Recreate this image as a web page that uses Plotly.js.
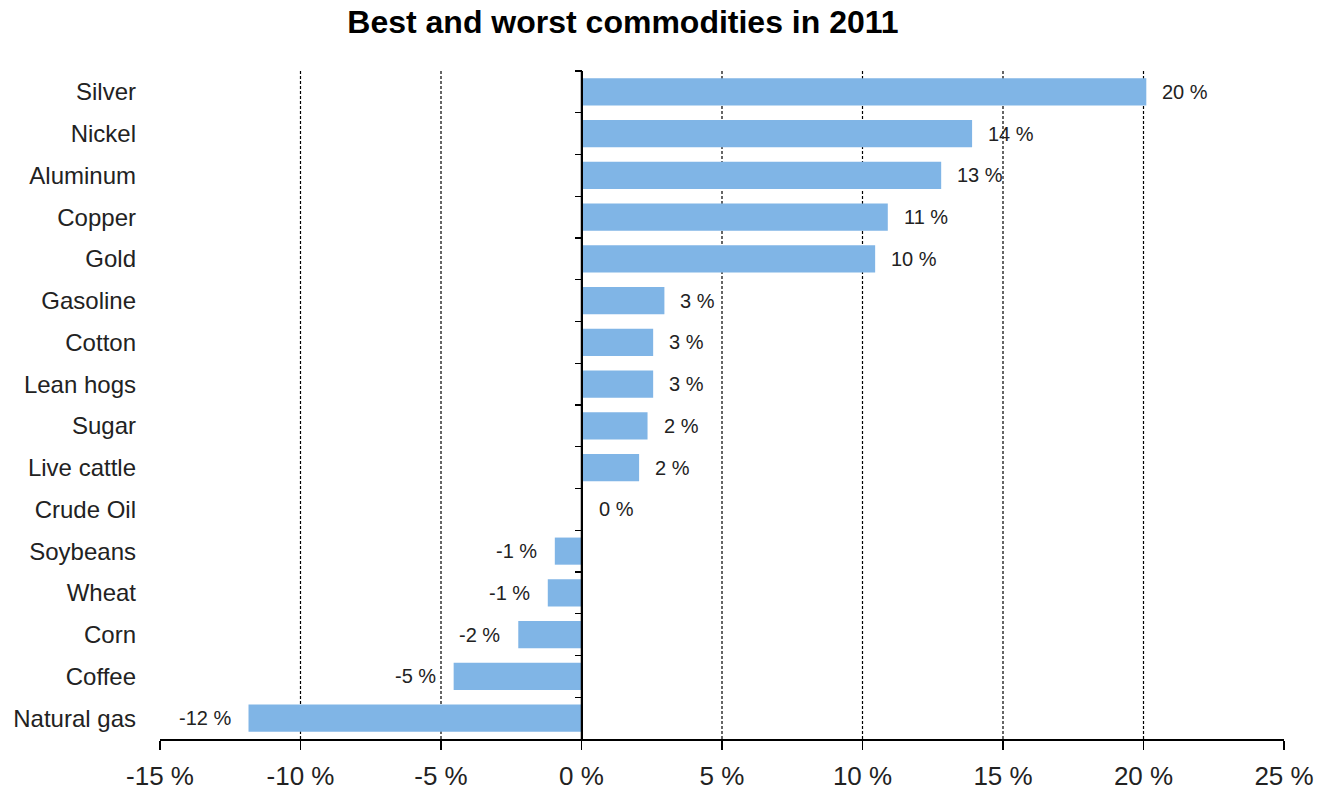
<!DOCTYPE html>
<html>
<head>
<meta charset="utf-8">
<script src="https://cdn.plot.ly/plotly-3.0.1.min.js"></script>
<style>html,body{margin:0;padding:0;background:#fff;}#chart{width:1319px;height:795px;}</style>
</head>
<body>
<div id="chart"></div>
<script>
const categories = ["Silver","Nickel","Aluminum","Copper","Gold","Gasoline","Cotton","Lean hogs","Sugar","Live cattle","Crude Oil","Soybeans","Wheat","Corn","Coffee","Natural gas"];
const values = [20.1, 13.9, 12.8, 10.9, 10.45, 2.95, 2.55, 2.55, 2.35, 2.05, 0.05, -0.95, -1.2, -2.25, -4.55, -11.85];
const labels = ["20 %","14 %","13 %","11 %","10 %","3 %","3 %","3 %","2 %","2 %","0 %","-1 %","-1 %","-2 %","-5 %","-12 %"];
const tickValues = [-15,-10,-5,0,5,10,15,20,25];
const tickLabels = ["-15 %","-10 %","-5 %","0 %","5 %","10 %","15 %","20 %","25 %"];
const gridValues = [-10,-5,5,10,15,20];

const font = "Liberation Sans, Arial, sans-serif";
const barColor = "#80B5E6";

const traces = [
  {type:"bar", orientation:"h", x:values, y:categories, marker:{color:barColor}, width:0.65, hoverinfo:"x+y", xaxis:"x", yaxis:"y"},
  {type:"bar", orientation:"h", x:values, y:categories, marker:{color:"rgba(0,0,0,0)"}, width:0.65, hoverinfo:"skip", xaxis:"x", yaxis:"y2", showlegend:false}
];

const shapes = gridValues.map(v => ({type:"line", xref:"x", yref:"paper", x0:v, x1:v, y0:0, y1:1, layer:"below", line:{color:"#000", width:1.2, dash:"3px,2px"}}));
shapes.push({type:"line", xref:"x", yref:"paper", x0:0, x1:0, y0:0, y1:1, layer:"above", line:{color:"#000", width:1.5}});

const annotations = values.map((v,i) => ({
  x:v, y:categories[i], xref:"x", yref:"y", text:labels[i], showarrow:false,
  xanchor: v >= 0 ? "left" : "right", xshift: v >= 0 ? 14 : -16,
  font:{family:font, size:20, color:"#222"}
}));

const layout = {
  width:1319, height:795,
  margin:{l:160, r:35, t:71, b:56},
  paper_bgcolor:"#fff", plot_bgcolor:"#fff",
  showlegend:false,
  title:{text:"Best and worst commodities in 2011", x:0.4723, xanchor:"center", y:0.972, yanchor:"middle", font:{family:font, size:32, color:"#000", weight:"bold"}},
  xaxis:{range:[-15,25], tickvals:tickValues, ticktext:tickLabels, showgrid:false, zeroline:false,
    showline:true, linecolor:"#000", linewidth:1.5, ticks:"outside", ticklen:9, tickwidth:1.5, tickcolor:"#000",
    ticklabelstandoff:4,
    tickfont:{family:font, size:26, color:"#222"}, fixedrange:true},
  yaxis:{type:"category", categoryorder:"array", categoryarray:categories, autorange:"reversed",
    showline:false, showgrid:false, zeroline:false, ticks:"", ticklabelstandoff:23,
    tickfont:{family:font, size:24, color:"#222"}, fixedrange:true},
  yaxis2:{type:"category", categoryorder:"array", categoryarray:categories, autorange:"reversed",
    overlaying:"y", anchor:"free", position:0.375, side:"left", matches:"y",
    showline:true, linecolor:"#000", linewidth:1.5, ticks:"outside", tickson:"boundaries", ticklen:7, tickwidth:1.2, tickcolor:"#000",
    showticklabels:false, showgrid:false, zeroline:false, fixedrange:true},
  shapes:shapes,
  annotations:annotations,
  bargap:0.35
};

Plotly.newPlot("chart", traces, layout, {displayModeBar:false, staticPlot:true});
</script>
</body>
</html>
